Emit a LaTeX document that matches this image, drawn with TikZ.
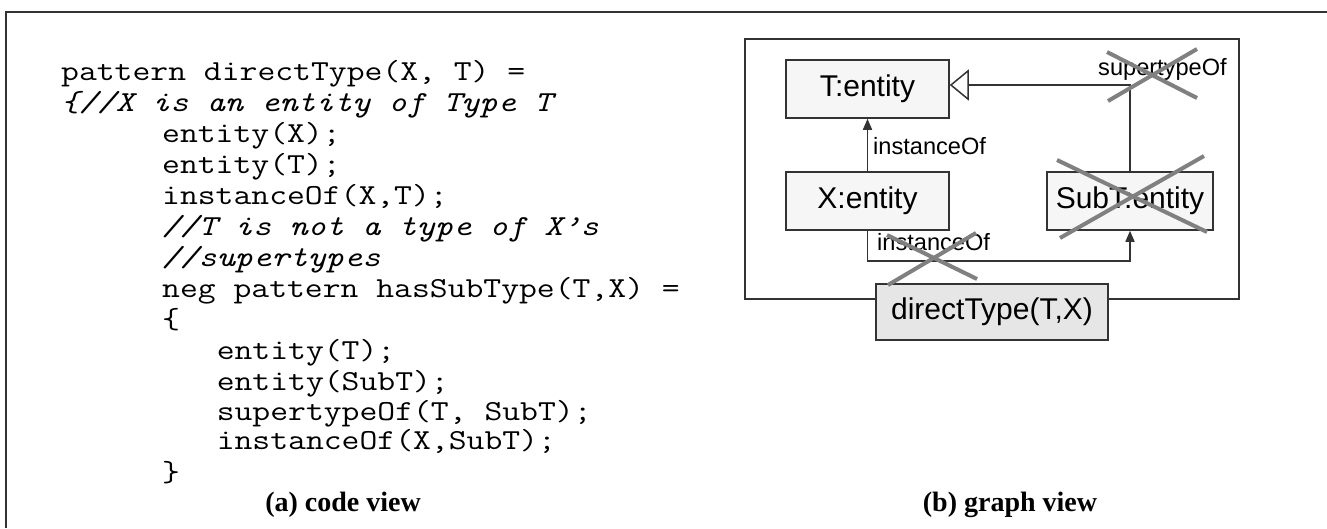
\documentclass[tikz,border=0pt]{standalone}
\usepackage{fontspec}
\usepackage{graphicx}
\usetikzlibrary{arrows.meta}
\newfontfamily\diafont{Liberation Sans}
\newfontfamily\capfont{Liberation Serif}
\definecolor{edgegray}{HTML}{333333}
\definecolor{crossgray}{HTML}{808080}
\definecolor{boxfill}{HTML}{F6F6F6}
\definecolor{patfill}{HTML}{E6E6E6}
% typewriter code, widened to a Courier-like character pitch
\newcommand{\codetext}[1]{\scalebox{1.195}[1]{#1}}
\tikzset{
  codeline/.style={anchor=base west, inner sep=0pt, font=\ttfamily\fontsize{29}{31}\selectfont},
  comment/.style={codeline, font=\ttfamily\itshape\fontsize{29}{31}\selectfont},
  caption/.style={anchor=base, inner sep=0pt, font=\capfont\bfseries\fontsize{28}{30}\selectfont},
  entitybox/.style={draw=edgegray, line width=1.5pt, fill=boxfill, minimum height=58pt,
    inner sep=0pt, font=\diafont\fontsize{30}{32}\selectfont},
  patternbox/.style={entitybox, fill=patfill, minimum height=56pt},
  edgelabel/.style={anchor=base west, inner sep=0pt, font=\diafont\fontsize{23.6}{25}\selectfont},
  assoc/.style={draw=edgegray, line width=1.5pt, -{Triangle[length=11pt,width=9pt]}},
  inherit/.style={draw=edgegray, line width=1.5pt, -{Triangle[open, length=19pt, width=31pt, fill=white]}},
  negcross/.style={draw=crossgray, line width=4pt},
  framebox/.style={draw=edgegray, line width=1.5pt}
}
\begin{document}
\begin{tikzpicture}[x=1pt, y=-1pt]
\useasboundingbox (0,0) rectangle (1327,528);
\fill[white] (0,0) rectangle (1327,528);

% page frame (top and left rules)
\draw[framebox] (6,528) -- (6,12) -- (1327,12);

% ---- code view ----
\node[codeline] (c0)  at (61,80)       {\codetext{pattern directType(X, T) =}};
\node[comment]  (c1)  at (61,111)      {\codetext{\{//X is an entity of Type T}};
\node[codeline] (c2)  at (162,142)     {\codetext{entity(X);}};
\node[codeline] (c3)  at (162,173)     {\codetext{entity(T);}};
\node[codeline] (c4)  at (162,204)     {\codetext{instanceOf(X,T);}};
\node[comment]  (c5)  at (162,235)     {\codetext{//T is not a type of X’s}};
\node[comment]  (c6)  at (162,266)     {\codetext{//supertypes}};
\node[codeline] (c7)  at (162,297)     {\codetext{neg pattern hasSubType(T,X) =}};
\node[codeline] (c8)  at (162,328)     {\codetext{\{}};
\node[codeline] (c9)  at (216.6,359)   {\codetext{entity(T);}};
\node[codeline] (c10) at (216.6,390)   {\codetext{entity(SubT);}};
\node[codeline] (c11) at (216.6,420)   {\codetext{supertypeOf(T, SubT);}};
\node[codeline] (c12) at (216.6,449)   {\codetext{instanceOf(X,SubT);}};
\node[codeline] (c13) at (162,481)     {\codetext{\}}};
\node[caption]  (capa) at (343,511)    {(a) code view};

% ---- graph view ----
\draw[framebox] (745,39) rectangle (1239,299);

\node[entitybox, minimum width=163pt] (T)    at (867.5,89)  {T:entity};
\node[entitybox, minimum width=163pt] (X)    at (867.5,201) {X:entity};
\node[entitybox, minimum width=166pt] (SubT) at (1130,201)  {SubT:entity};
\node[patternbox, minimum width=232pt] (DT)  at (992,312)   {directType(T,X)};

\draw[assoc] (X.north) -- (T.south);
\node[edgelabel] (l1) at (873,154) {instanceOf};

\draw[inherit] (SubT.north) |- ([yshift=4pt]T.east);
\node[edgelabel] (l2) at (1098,75) {supertypeOf};

\draw[assoc] (X.south) -- ++(0,30) -| (SubT.south);
\node[edgelabel] (l3) at (877,250) {instanceOf};

% negation crosses
\draw[negcross] (1107,52) -- (1197,98);
\draw[negcross] (1108,101) -- (1197,49);
\draw[negcross] (1057,160) -- (1207,232);
\draw[negcross] (1060,238) -- (1204,156);
\draw[negcross] (887,235) -- (977,279);
\draw[negcross] (888,285) -- (976,233);

\node[caption] (capb) at (1010,511) {(b) graph view};
\end{tikzpicture}
\end{document}
